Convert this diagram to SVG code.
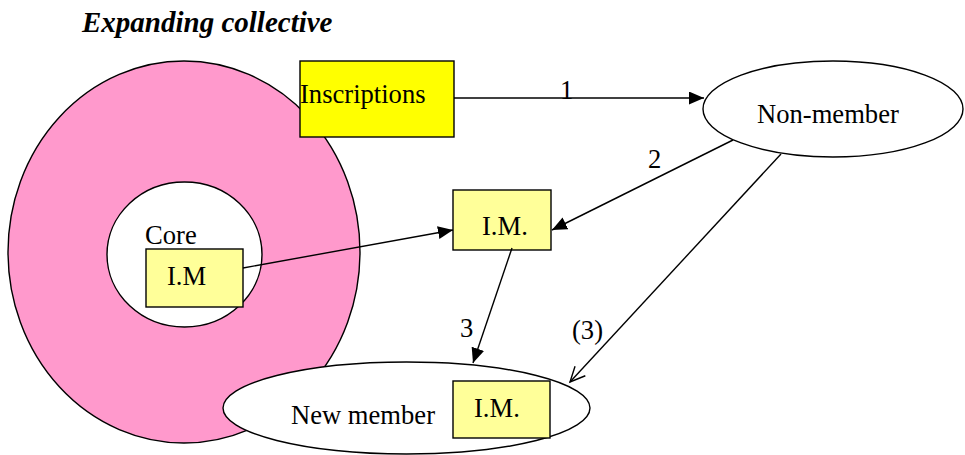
<svg xmlns="http://www.w3.org/2000/svg" width="965" height="455" viewBox="0 0 965 455">
<style>
text{font-family:"Liberation Serif","Times New Roman",serif;font-size:26.6px;fill:#000}
.title{font-weight:bold;font-style:italic;font-size:29px}
.sh{stroke:#000;stroke-width:1.4}
.im{fill:#FFFF99;stroke:#000;stroke-width:1.4}
.ln{stroke:#000;stroke-width:1.4;fill:none}
</style>
<defs>
<marker id="fa" markerUnits="userSpaceOnUse" markerWidth="16" markerHeight="14" refX="15" refY="6.5" orient="auto"><path d="M0,0 L15,6.5 L0,13 z" fill="#000"/></marker>
<marker id="oa" markerUnits="userSpaceOnUse" markerWidth="18" markerHeight="16" refX="15" refY="7" orient="auto" overflow="visible"><path d="M0,0 L15,7 L0,14" fill="none" stroke="#000" stroke-width="1.4"/></marker>
</defs>
<rect width="965" height="455" fill="#fff"/>
<text class="title" x="82" y="32">Expanding collective</text>
<g id="collective"><ellipse class="sh" cx="184" cy="252" rx="176" ry="191" fill="#FF99CC"/></g>
<g id="core"><ellipse class="sh" cx="184.5" cy="254.5" rx="77.5" ry="72.5" fill="#fff"/><text x="145" y="244">Core</text></g>
<g id="core-im"><rect class="im" x="146" y="249" width="97" height="58"/><text x="167" y="285">I.M</text></g>
<g id="inscriptions"><rect x="300" y="61" width="154" height="76" fill="#FFFF00" stroke="#000" stroke-width="1.4"/><text x="300" y="103">Inscriptions</text></g>
<g id="non-member"><ellipse class="sh" cx="833" cy="109" rx="130" ry="48" fill="#fff"/><text x="757" y="123">Non-member</text></g>
<g id="mid-im"><rect class="im" x="453" y="190" width="98" height="60"/><text x="482" y="235">I.M.</text></g>
<g id="new-member"><ellipse class="sh" cx="406.5" cy="408" rx="183.5" ry="46" fill="#fff"/><text x="291" y="424">New member</text></g>
<g id="new-im"><rect class="im" x="453" y="381" width="97" height="57"/><text x="474" y="417">I.M.</text></g>
<g id="connectors">
<line class="ln" x1="454" y1="98" x2="704" y2="98" marker-end="url(#fa)"/>
<line class="ln" x1="733" y1="140" x2="552" y2="230" marker-end="url(#fa)"/>
<line class="ln" x1="243" y1="268" x2="453" y2="230" marker-end="url(#fa)"/>
<line class="ln" x1="512" y1="248" x2="473" y2="363" marker-end="url(#fa)"/>
<line class="ln" x1="781" y1="154" x2="570" y2="382" marker-end="url(#oa)"/>
<text x="560" y="99">1</text>
<text x="648" y="168">2</text>
<text x="460" y="337">3</text>
<text x="572" y="339">(3)</text>
</g>
</svg>
